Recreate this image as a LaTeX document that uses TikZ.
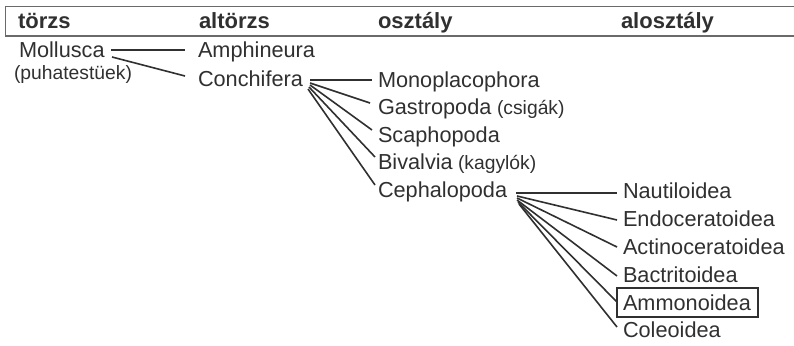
\documentclass[tikz,border=0pt]{standalone}
\usepackage{fontspec}
\setmainfont{Liberation Sans}
\definecolor{ink}{HTML}{303030}
\definecolor{rule}{HTML}{6a6a6a}
\begin{document}
\begin{tikzpicture}[x=1pt,y=-1pt,
  lbl/.style={anchor=base west,inner sep=0pt,outer sep=0pt,text=ink,font=\fontsize{21.7}{21.7}\selectfont},
  sml/.style={anchor=base west,inner sep=0pt,outer sep=0pt,text=ink,font=\fontsize{19.3}{19.3}\selectfont},
  hdr/.style={anchor=base west,inner sep=0pt,outer sep=0pt,text=ink,font=\fontsize{22}{22}\selectfont\bfseries},
  link/.style={draw=ink,line width=1.6pt},
  hilite/.style={draw=ink,line width=1.2pt}]
\useasboundingbox (0,0) rectangle (794,345);
% header frame
\coordinate (ht) at (5,7);
\coordinate (hb) at (5,36);
\coordinate (htr) at (794,7);
\coordinate (hbr) at (794,36);
\draw[rule,line width=1pt] (htr) -- (ht) -- (hb);
\draw[rule,line width=2pt] (hb) -- (hbr);
\node[hdr] (h1) at (18,29) {törzs};
\node[hdr] (h2) at (199,29) {altörzs};
\node[hdr] (h3) at (378,29) {osztály};
\node[hdr] (h4) at (621,29) {alosztály};
% column 1
\node[lbl] (moll) at (19,58) {Mollusca};
\node[sml] (puha) at (14,79) {(puhatestüek)};
% column 2
\node[lbl] (amph) at (198,58) {Amphineura};
\node[lbl] (conc) at (198,86) {Conchifera};
% column 3
\node[lbl] (mono) at (378,87) {Monoplacophora};
\node[lbl] (gast) at (378,114) {Gastropoda};
\node[sml] (csig) at (497,114) {(csigák)};
\node[lbl] (scap) at (378,142) {Scaphopoda};
\node[lbl] (biva) at (378,169) {Bivalvia};
\node[sml] (kagy) at (458,169) {(kagylók)};
\node[lbl] (ceph) at (378,197) {Cephalopoda};
% column 4
\node[lbl] (naut) at (623,198) {Nautiloidea};
\node[lbl] (endo) at (623,226) {Endoceratoidea};
\node[lbl] (acti) at (623,254) {Actinoceratoidea};
\node[lbl] (bact) at (623,282) {Bactritoidea};
\node[lbl] (ammo) at (623,310) {Ammonoidea};
\node[lbl] (cole) at (623,337) {Coleoidea};
% box round Ammonoidea
\draw[hilite] ([shift={(-6,-22)}]ammo.base west) rectangle ([shift={(135,7)}]ammo.base west);
% connectors: Mollusca
\draw[link] ([shift={(92,-8)}]moll.base west) -- ([shift={(-13,-8)}]amph.base west);
\draw[link] ([shift={(93,-1)}]moll.base west) -- ([shift={(-13,-10)}]conc.base west);
% connectors: Conchifera
\draw[link] ([shift={(112,-6)}]conc.base west) -- ([shift={(-6,-7)}]mono.base west);
\draw[link] ([shift={(112,-3)}]conc.base west) -- ([shift={(-8,-11)}]gast.base west);
\draw[link] ([shift={(112,-1)}]conc.base west) -- ([shift={(-6,-12)}]scap.base west);
\draw[link] ([shift={(111,1)}]conc.base west) -- ([shift={(-3,-12)}]biva.base west);
\draw[link] ([shift={(110,3)}]conc.base west) -- ([shift={(-3,-12)}]ceph.base west);
% connectors: Cephalopoda
\draw[link] ([shift={(138,-4)}]ceph.base west) -- ([shift={(-6,-5)}]naut.base west);
\draw[link] ([shift={(139,-1)}]ceph.base west) -- ([shift={(-6,-6)}]endo.base west);
\draw[link] ([shift={(139,1)}]ceph.base west) -- ([shift={(-6,-7)}]acti.base west);
\draw[link] ([shift={(139,3)}]ceph.base west) -- ([shift={(-6,-6)}]bact.base west);
\draw[link] ([shift={(140,5)}]ceph.base west) -- ([shift={(-6,-8)}]ammo.base west);
\draw[link] ([shift={(141,7)}]ceph.base west) -- ([shift={(-6,-10)}]cole.base west);
\end{tikzpicture}
\end{document}
